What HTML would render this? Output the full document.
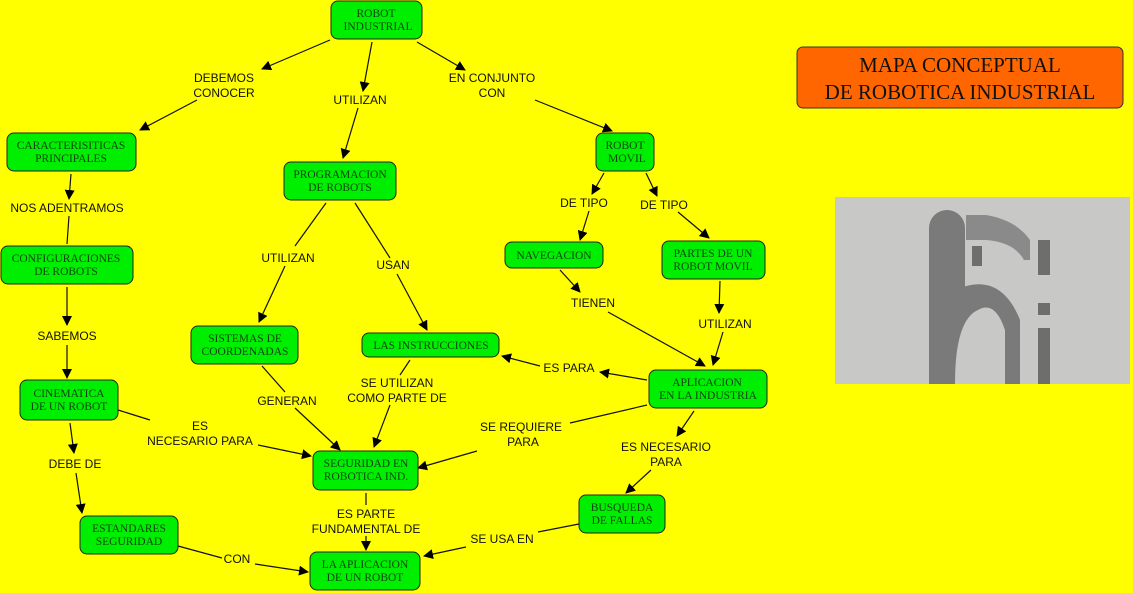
<!DOCTYPE html>
<html><head><meta charset="utf-8"><style>
html,body{margin:0;padding:0;background:#ffff00;}
svg{display:block}
.n{fill:#00ee00;stroke:#222;stroke-width:1}
.nt{font-family:"Liberation Serif",serif;font-size:11.5px;fill:#114411;text-anchor:middle}
.lt{font-family:"Liberation Sans",sans-serif;font-size:12px;fill:#111;text-anchor:middle}
line{stroke:#111;stroke-width:1.2}
</style></head><body>
<svg width="1133" height="593" viewBox="0 0 1133 593" xmlns="http://www.w3.org/2000/svg">
<defs><marker id="a" markerWidth="10" markerHeight="10" refX="9" refY="5" orient="auto" markerUnits="userSpaceOnUse"><path d="M0,0 L10,5 L0,10 z" fill="#000"/></marker></defs>
<rect width="1133" height="593" fill="#ffff00"/>
<g>
<line x1="330" y1="40" x2="262" y2="69" marker-end="url(#a)"/>
<line x1="197" y1="100" x2="140" y2="130" marker-end="url(#a)"/>
<line x1="372" y1="42" x2="363" y2="91" marker-end="url(#a)"/>
<line x1="358" y1="108" x2="343" y2="158" marker-end="url(#a)"/>
<line x1="417" y1="42" x2="465" y2="70" marker-end="url(#a)"/>
<line x1="535" y1="100" x2="612" y2="131" marker-end="url(#a)"/>
<line x1="71" y1="174" x2="69" y2="199" marker-end="url(#a)"/>
<line x1="69" y1="216" x2="67" y2="244"/>
<line x1="67" y1="287" x2="67" y2="325" marker-end="url(#a)"/>
<line x1="67" y1="345" x2="67" y2="378" marker-end="url(#a)"/>
<line x1="70" y1="423" x2="74" y2="453" marker-end="url(#a)"/>
<line x1="76" y1="473" x2="82" y2="513" marker-end="url(#a)"/>
<line x1="118" y1="410" x2="150" y2="420"/>
<line x1="258" y1="445" x2="311" y2="456" marker-end="url(#a)"/>
<line x1="178" y1="546" x2="222" y2="558"/>
<line x1="255" y1="564" x2="308" y2="572" marker-end="url(#a)"/>
<line x1="326" y1="203" x2="295" y2="246"/>
<line x1="285" y1="266" x2="259" y2="322" marker-end="url(#a)"/>
<line x1="355" y1="203" x2="390" y2="258"/>
<line x1="397" y1="274" x2="427" y2="330" marker-end="url(#a)"/>
<line x1="262" y1="366" x2="285" y2="392"/>
<line x1="295" y1="408" x2="340" y2="450" marker-end="url(#a)"/>
<line x1="410" y1="360" x2="400" y2="375"/>
<line x1="390" y1="405" x2="374" y2="447" marker-end="url(#a)"/>
<line x1="366" y1="493" x2="366" y2="505"/>
<line x1="366" y1="536" x2="366" y2="550" marker-end="url(#a)"/>
<line x1="579" y1="524" x2="538" y2="532"/>
<line x1="466" y1="547" x2="424" y2="556" marker-end="url(#a)"/>
<line x1="647" y1="380" x2="600" y2="372" marker-end="url(#a)"/>
<line x1="540" y1="366" x2="502" y2="356" marker-end="url(#a)"/>
<line x1="647" y1="405" x2="570" y2="423"/>
<line x1="477" y1="451" x2="418" y2="468" marker-end="url(#a)"/>
<line x1="694" y1="411" x2="677" y2="436" marker-end="url(#a)"/>
<line x1="651" y1="470" x2="626" y2="493" marker-end="url(#a)"/>
<line x1="604" y1="173" x2="592" y2="194" marker-end="url(#a)"/>
<line x1="589" y1="211" x2="580" y2="240" marker-end="url(#a)"/>
<line x1="646" y1="173" x2="657" y2="196" marker-end="url(#a)"/>
<line x1="678" y1="212" x2="709" y2="238" marker-end="url(#a)"/>
<line x1="560" y1="270" x2="580" y2="292" marker-end="url(#a)"/>
<line x1="608" y1="312" x2="705" y2="366" marker-end="url(#a)"/>
<line x1="720" y1="281" x2="719" y2="313" marker-end="url(#a)"/>
<line x1="723" y1="332" x2="713" y2="365" marker-end="url(#a)"/>
</g>
<g>
<rect class="n" x="331" y="1" width="91" height="38" rx="7"/><text class="nt" x="376" y="17">ROBOT</text><text class="nt" x="378" y="30">INDUSTRIAL</text>
<rect class="n" x="7" y="133" width="129" height="38" rx="7"/><text class="nt" x="71" y="149">CARACTERISITICAS</text><text class="nt" x="71" y="162">PRINCIPALES</text>
<rect class="n" x="284" y="162" width="112" height="38" rx="7"/><text class="nt" x="340" y="178">PROGRAMACION</text><text class="nt" x="340" y="191">DE ROBOTS</text>
<rect class="n" x="1" y="246" width="132" height="38" rx="7"/><text class="nt" x="66" y="262">CONFIGURACIONES</text><text class="nt" x="66" y="275">DE ROBOTS</text>
<rect class="n" x="191" y="326" width="107" height="38" rx="7"/><text class="nt" x="245" y="342">SISTEMAS DE</text><text class="nt" x="245" y="355">COORDENADAS</text>
<rect class="n" x="362" y="333" width="137" height="24" rx="7"/><text class="nt" x="431" y="349">LAS INSTRUCCIONES</text>
<rect class="n" x="20" y="380" width="98" height="40" rx="7"/><text class="nt" x="69" y="397">CINEMATICA</text><text class="nt" x="69" y="410">DE UN ROBOT</text>
<rect class="n" x="313" y="451" width="105" height="39" rx="7"/><text class="nt" x="366" y="467">SEGURIDAD EN</text><text class="nt" x="366" y="480">ROBOTICA IND.</text>
<rect class="n" x="80" y="516" width="98" height="38" rx="7"/><text class="nt" x="129" y="532">ESTANDARES</text><text class="nt" x="129" y="545">SEGURIDAD</text>
<rect class="n" x="310" y="552" width="110" height="38" rx="7"/><text class="nt" x="365" y="568">LA APLICACION</text><text class="nt" x="365" y="581">DE UN ROBOT</text>
<rect class="n" x="596" y="133" width="58" height="38" rx="7"/><text class="nt" x="625" y="149">ROBOT</text><text class="nt" x="627" y="162">MOVIL</text>
<rect class="n" x="505" y="242" width="98" height="26" rx="7"/><text class="nt" x="554" y="259">NAVEGACION</text>
<rect class="n" x="662" y="241" width="103" height="38" rx="7"/><text class="nt" x="713" y="257">PARTES DE UN</text><text class="nt" x="713" y="270">ROBOT MOVIL</text>
<rect class="n" x="649" y="370" width="118" height="38" rx="7"/><text class="nt" x="707" y="386">APLICACION</text><text class="nt" x="708" y="399">EN LA INDUSTRIA</text>
<rect class="n" x="579" y="495" width="86" height="38" rx="7"/><text class="nt" x="622" y="511">BUSQUEDA</text><text class="nt" x="622" y="524">DE FALLAS</text>
</g>
<g class="lt">
<text class="lt" x="224" y="82">DEBEMOS</text><text class="lt" x="224" y="97">CONOCER</text>
<text class="lt" x="360" y="104">UTILIZAN</text>
<text class="lt" x="492" y="82">EN CONJUNTO</text><text class="lt" x="492" y="97">CON</text>
<text class="lt" x="67" y="212">NOS ADENTRAMOS</text>
<text class="lt" x="67" y="340">SABEMOS</text>
<text class="lt" x="75" y="468">DEBE DE</text>
<text class="lt" x="200" y="430">ES</text><text class="lt" x="200" y="445">NECESARIO PARA</text>
<text class="lt" x="237" y="563">CON</text>
<text class="lt" x="288" y="262">UTILIZAN</text>
<text class="lt" x="393" y="269">USAN</text>
<text class="lt" x="287" y="405">GENERAN</text>
<text class="lt" x="397" y="387">SE UTILIZAN</text><text class="lt" x="397" y="402">COMO PARTE DE</text>
<text class="lt" x="366" y="518">ES PARTE</text><text class="lt" x="366" y="533">FUNDAMENTAL DE</text>
<text class="lt" x="502" y="543">SE USA EN</text>
<text class="lt" x="569" y="372">ES PARA</text>
<text class="lt" x="521" y="431">SE REQUIERE</text><text class="lt" x="523" y="446">PARA</text>
<text class="lt" x="666" y="451">ES NECESARIO</text><text class="lt" x="666" y="466">PARA</text>
<text class="lt" x="584" y="207">DE TIPO</text>
<text class="lt" x="664" y="209">DE TIPO</text>
<text class="lt" x="593" y="307">TIENEN</text>
<text class="lt" x="725" y="328">UTILIZAN</text>
</g>
<rect x="797" y="47" width="326" height="61" rx="6" fill="#ff6600" stroke="#333"/>
<text x="960" y="72" text-anchor="middle" font-family="Liberation Serif,serif" font-size="21" fill="#111">MAPA CONCEPTUAL</text>
<text x="960" y="99" text-anchor="middle" font-family="Liberation Serif,serif" font-size="21" fill="#111">DE ROBOTICA INDUSTRIAL</text>
<rect x="835" y="197" width="295" height="187" fill="#c8c8c6"/>
<g fill="#7a7a7a">
<path d="M929,384 V228 a18,18 0 0 1 36,0 V290 L955,290 V384 z"/>
<path d="M955,290 Q1000,270 1020,320 V384 H1005 V330 Q995,300 978,310 Q955,320 955,384 z"/>
<path d="M966,215 h20 q30,5 44,25 v20 h-6 q-10,-18 -38,-20 h-20 z" fill="#8a8a8a"/>
<rect x="1038" y="240" width="12" height="35" fill="#6e6e6e"/>
<rect x="1038" y="303" width="12" height="12" fill="#6e6e6e"/>
<rect x="1038" y="328" width="12" height="56" fill="#6e6e6e"/>
<rect x="972" y="246" width="10" height="20" fill="#6e6e6e"/>
</g>
</svg>
</body></html>
